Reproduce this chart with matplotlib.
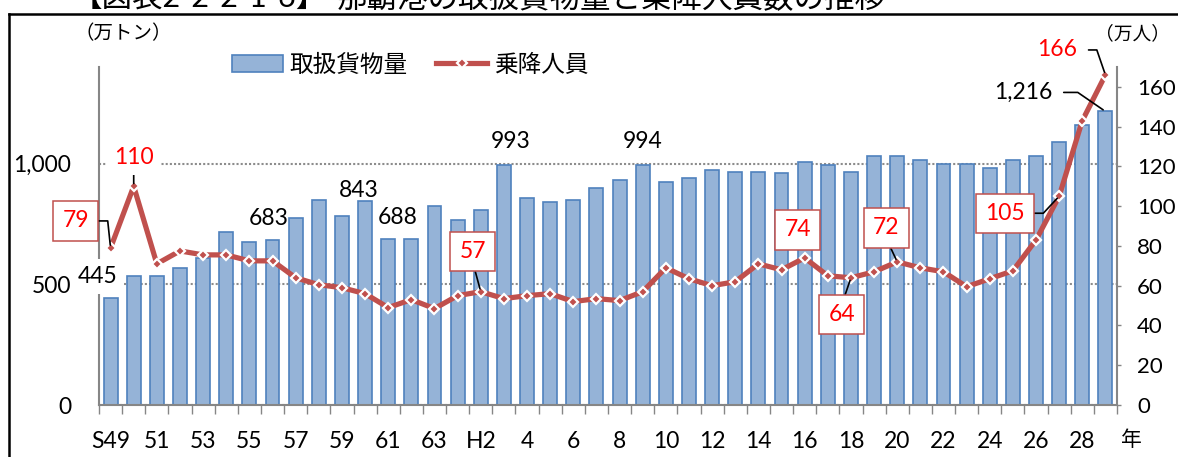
import matplotlib
matplotlib.use('Agg')
import matplotlib.pyplot as plt
import numpy as np
from matplotlib.patches import Patch
from matplotlib.lines import Line2D

plt.rcParams['font.family'] = ['Lato', 'Noto Sans CJK JP']

# 取扱貨物量 (万トン), S49 .. H29
cargo = [445, 535, 535, 568, 610, 718, 676, 683, 776, 849, 783, 843, 688, 688,
         826, 767, 809, 993, 859, 842, 851, 900, 934, 994, 925, 941, 975, 967,
         967, 960, 1008, 993, 967, 1033, 1033, 1015, 1000, 1000, 982, 1015,
         1033, 1090, 1158, 1216]
# 乗降人員 (万人)
passengers = [79, 110, 71, 77.5, 75.5, 75.5, 72.5, 72.5, 64, 60.5, 59, 56, 49,
              53, 48.5, 55, 57, 53.5, 55, 56, 52, 53.5, 52.5, 57, 69, 63.5, 60,
              62, 71, 68, 74, 65, 64, 67, 72, 69, 67, 59.5, 63.5, 67.5, 83, 105,
              143, 166]
tick_labels = ['S49', '51', '53', '55', '57', '59', '61', '63', 'H2', '4', '6',
               '8', '10', '12', '14', '16', '18', '20', '22', '24', '26', '28']

# labels on bars: index, text, offset px, white background
bar_notes = [(0, '445', -13, 21, True), (7, '683', -4, 22, False),
             (11, '843', -6, 11, False), (12.5, '688', -2, 21, False),
             (17, '993', 7, 24, False), (23, '994', 0, 24, False)]

W, H = 1178, 457
red = '#FF0000'
line_c = '#C0504D'
fs = 16.5

fig = plt.figure(figsize=(W / 100, H / 100), dpi=100)


def fx(px):
    return px / W


def fy(py):
    return 1 - py / H


ax = fig.add_axes([fx(99), fy(405), fx(1117) - fx(99), fy(67) - fy(405)])
ax2 = ax.twinx()

x = np.arange(len(cargo))
ax.bar(x, cargo, width=0.6, color='#95B3D7', edgecolor='#4F81BD', linewidth=1.2, zorder=2)
ax.set_xlim(-0.5, len(cargo) - 0.5)
ax.set_ylim(0, 1400)
ax.set_yticks([0, 500, 1000])
ax.set_yticklabels(['0', '500', '1,000'])
ax.yaxis.grid(True, linestyle=(0, (1, 1)), color='#8c8c8c', lw=1.5)
ax.set_axisbelow(True)
ax.tick_params(axis='y', length=0, pad=20, labelsize=fs)

ax.set_xticks(np.arange(-0.5, len(cargo), 1))
ax.set_xticklabels([])
ax.tick_params(axis='x', which='major', length=6.5, width=1, color='#868686', direction='out')
ax.set_xticks(x[::2], minor=True)
ax.set_xticklabels(tick_labels, minor=True)
ax.tick_params(axis='x', which='minor', length=0, pad=18.5, labelsize=fs)

for s in ['top', 'right']:
    ax.spines[s].set_visible(False)
for s in ['left', 'bottom']:
    ax.spines[s].set_color('#868686')
    ax.spines[s].set_linewidth(1.5)

ax2.plot(x, passengers, color=line_c, lw=3.75, marker='D', ms=5, mfc=line_c,
         mec='white', mew=1.6, zorder=3)
ax2.set_ylim(0, 170)
ax2.set_yticks(range(0, 161, 20))
ax2.tick_params(axis='y', length=3, width=1, color='#868686', pad=11.5, labelsize=16)
for s in ['top', 'left', 'bottom']:
    ax2.spines[s].set_visible(False)
ax2.spines['right'].set_color('#868686')
ax2.spines['right'].set_linewidth(1.5)

white_box = dict(boxstyle='square,pad=0.3', fc='white', ec='none')
red_box = dict(boxstyle='square,pad=0.4', fc='white', ec=line_c, lw=1.1)
lead = dict(arrowstyle='-', color='black', lw=1.2, shrinkA=0, shrinkB=2)

for i, t, dx, dy, bg in bar_notes:
    yv = cargo[int(i)]
    ax2.annotate(t, xy=(i, yv), xycoords=ax.transData, xytext=(dx, dy),
                 textcoords='offset pixels', ha='center', va='center',
                 fontsize=fs, bbox=white_box if bg else None, zorder=6)

ax2.annotate('1,216', xy=(43, cargo[43]), xycoords=ax.transData, xytext=(-82, 19),
             textcoords='offset pixels', ha='center', va='center', fontsize=fs,
             zorder=6,
             arrowprops=dict(lead, relpos=(1, 0.5), shrinkA=6,
                             connectionstyle='angle,angleA=0,angleB=-34.5,rad=0'))

ax2.annotate('110', xy=(1, passengers[1]), xytext=(0, 29), textcoords='offset pixels',
             ha='center', va='center', fontsize=fs, color=red, bbox=white_box, zorder=6,
             arrowprops=dict(lead, relpos=(0.5, 0)))
ax2.annotate('166', xy=(43, passengers[43]), xytext=(-48, 25), textcoords='offset pixels',
             ha='center', va='center', fontsize=fs, color=red, zorder=6,
             arrowprops=dict(lead, relpos=(1, 0.5), shrinkA=6,
                             connectionstyle='angle,angleA=0,angleB=-71,rad=0'))

boxed = [(0, -35, 27, (1, 0.5), 'angle,angleA=0,angleB=-84,rad=0'),
         (16, -8, 40, (0.5, 0), 'arc3'),
         (30, -7, 28, None, None),
         (32, -9, -37, (0.5, 1), 'arc3'),
         (34, -11, 34, (0.5, 0), 'arc3'),
         (41, -54, -17, (1, 0.5), 'angle,angleA=0,angleB=47,rad=0')]
for i, dx, dy, rp, cs in boxed:
    ap = None
    if rp is not None:
        ap = dict(lead, relpos=rp, connectionstyle=cs)
    ax2.annotate(str(int(passengers[i])), xy=(i, passengers[i]), xytext=(dx, dy),
                 textcoords='offset pixels', ha='center', va='center', fontsize=fs,
                 color=red, bbox=red_box, zorder=6, arrowprops=ap)

# legend
handles = [Patch(fc='#95B3D7', ec='#4F81BD', lw=1.2),
           Line2D([], [], color=line_c, lw=3.75, marker='D', ms=5, mfc=line_c,
                  mec='white', mew=1.6)]
fig.legend(handles, ['取扱貨物量', '乗降人員'], loc='center left',
           bbox_to_anchor=(fx(232), fy(64.5)), bbox_transform=fig.transFigure,
           ncol=2, frameon=False, fontsize=17, borderpad=0, borderaxespad=0,
           handlelength=2.15, handletextpad=0.3, columnspacing=1.2)

fig.text(fx(75), fy(33), '（万トン）', ha='left', va='center', fontsize=14)
fig.text(fx(1170), fy(33), '（万人）', ha='right', va='center', fontsize=13.5)
fig.text(fx(1131), fy(440), '年', ha='center', va='center', fontsize=15)

# title, cut at the top of the picture
fig.text(fx(72), fy(7), '【図表2-2-2-1-6】', ha='left', va='baseline', fontsize=22)
fig.text(fx(337), fy(7), '那覇港の取扱貨物量と乗降人員数の推移', ha='left', va='baseline', fontsize=22)

# frame around chart
fig.add_artist(Line2D([fx(8.7), fx(8.7)], [0, fy(13.8)], color='black', lw=1.8))
fig.add_artist(Line2D([fx(8.7), 1], [fy(13.8), fy(13.8)], color='black', lw=1.8))

fig.savefig('out.png', dpi=100)
